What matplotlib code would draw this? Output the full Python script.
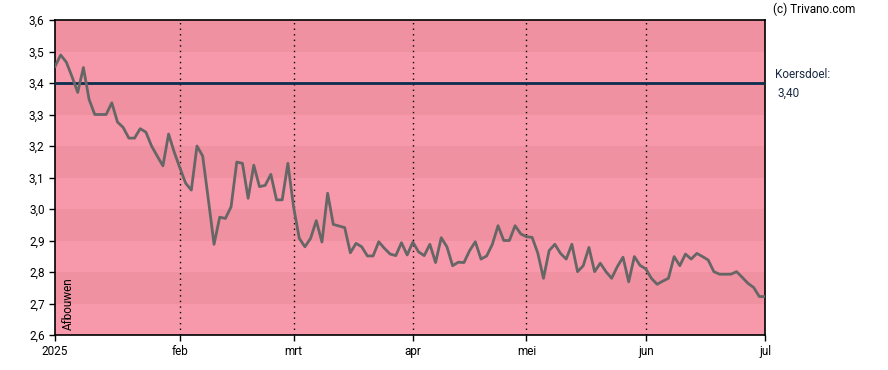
import matplotlib
matplotlib.use('Agg')
import matplotlib.pyplot as plt
import numpy as np

plt.rcParams['font.family'] = ['Roboto', 'DejaVu Sans']

# closing prices per trading day, 2 jan 2025 .. 1 jul 2025
prices = [
    3.452, 3.489, 3.466, 3.42, 3.370, 3.449, 3.348, 3.30, 3.30, 3.30,
    3.337, 3.276, 3.259, 3.225, 3.225, 3.255, 3.244, 3.20, 3.168, 3.137,
    3.238, 3.180, 3.13, 3.082, 3.06, 3.20, 3.168, 3.03, 2.888, 2.974,
    2.97, 3.007, 3.149, 3.145, 3.034, 3.139, 3.071, 3.075, 3.110, 3.029,
    3.029, 3.145, 3.007, 2.907, 2.88, 2.907, 2.963, 2.895, 3.05, 2.951,
    2.946, 2.941, 2.861, 2.891, 2.88, 2.851, 2.851, 2.896, 2.875, 2.857,
    2.852, 2.893, 2.854, 2.895, 2.864, 2.852, 2.888, 2.83, 2.909, 2.88,
    2.82, 2.831, 2.83, 2.868, 2.896, 2.841, 2.851, 2.888, 2.947, 2.90,
    2.90, 2.947, 2.921, 2.912, 2.91, 2.86, 2.78, 2.868, 2.888, 2.859,
    2.841, 2.888, 2.801, 2.82, 2.878, 2.801, 2.828, 2.801, 2.78, 2.817,
    2.847, 2.769, 2.849, 2.821, 2.81, 2.78, 2.761, 2.771, 2.78, 2.849,
    2.82, 2.857, 2.841, 2.859, 2.849, 2.838, 2.801, 2.793, 2.793, 2.793,
    2.801, 2.783, 2.764, 2.751, 2.722, 2.722,
]
# index of first trading day of each month
month_idx = [0, 22, 42, 63, 83, 104, 125]
month_labels = ['2025', 'feb', 'mrt', 'apr', 'mei', 'jun', 'jul']
target = 3.40
y_ticks = [2.6, 2.7, 2.8, 2.9, 3.0, 3.1, 3.2, 3.3, 3.4, 3.5, 3.6]

fig = plt.figure(figsize=(8.88, 3.70), dpi=100)
ax = fig.add_axes([55/888, 35/370, 710/888, 315/370])

dark = '#ef91a0'
light = '#f799aa'
for k in range(len(y_ticks) - 1):
    c = light if k % 2 == 0 else dark
    ax.axhspan(y_ticks[k], y_ticks[k + 1], color=c, lw=0, zorder=0)

for m in month_idx[1:-1]:
    ax.axvline(m, color='black', lw=1, ls=(0, (1, 3)), zorder=1)

ax.axhline(target, color='#0b2d4f', lw=2, zorder=3)
ax.plot(np.arange(len(prices)), prices, color='#666666', lw=2, zorder=4)

ax.set_xlim(0, month_idx[-1])
ax.set_ylim(2.6, 3.6)
ax.set_xticks(month_idx)
ax.set_xticklabels(month_labels)
ax.set_yticks(y_ticks)
ax.set_yticklabels([('%.1f' % v).replace('.', ',') for v in y_ticks])
ax.tick_params(direction='out', length=4, width=1, labelsize=8.5, colors='black')
for s in ax.spines.values():
    s.set_color('black')
    s.set_linewidth(1.2)

ax.text(0.01, 0.015, 'Afbouwen', rotation=90, transform=ax.transAxes,
        fontsize=8.5, ha='left', va='bottom')
fig.text(773/888, 1 - 9/370, '(c) Trivano.com', fontsize=8.5, ha='left', va='center')
fig.text(775/888, 1 - 74/370, 'Koersdoel:', fontsize=8.5, ha='left', va='center',
         color='#1a2a44')
fig.text(777/888, 1 - 93/370, ('%.2f' % target).replace('.', ','), fontsize=8.5,
         ha='left', va='center', color='#1a2a44')

fig.savefig('out.png', dpi=100)
